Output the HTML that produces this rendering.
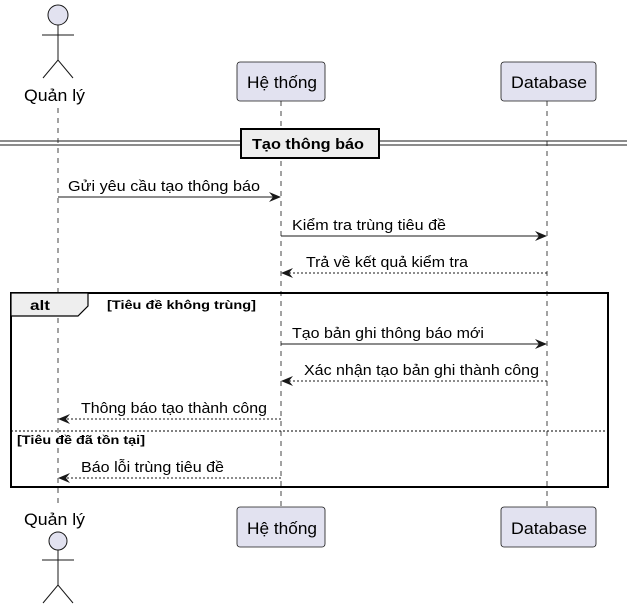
<!DOCTYPE html>
<html><head><meta charset="utf-8"><style>
html,body{margin:0;padding:0;background:#fff;}
svg{display:block;font-family:"Liberation Sans",Arial,sans-serif;}
</style></head><body>
<svg width="627" height="610" viewBox="0 0 627 610" xmlns="http://www.w3.org/2000/svg">
<defs>
<marker id="a" viewBox="0 0 12 10" refX="11" refY="5" markerWidth="12" markerHeight="10" markerUnits="userSpaceOnUse" orient="auto"><path d="M0,0 L12,5 L0,10 L4,5 Z" fill="#181818"/></marker>
</defs>
<g stroke="#181818" stroke-width="0.8" stroke-dasharray="5,5">
<line x1="58" y1="108" x2="58" y2="505"/>
<line x1="281" y1="101" x2="281" y2="507"/>
<line x1="547" y1="101" x2="547" y2="507"/>
</g>
<g stroke="#181818" stroke-width="1" fill="none">
<circle cx="58" cy="15" r="10" fill="#E2E2F0"/>
<line x1="58" y1="25" x2="58" y2="60"/><line x1="42" y1="35" x2="74" y2="35"/>
<polyline points="43,78 58,60 73,78"/>
<circle cx="58" cy="541" r="9" fill="#E2E2F0"/>
<line x1="58" y1="550" x2="58" y2="585"/><line x1="42" y1="560" x2="74" y2="560"/>
<polyline points="43,603 58,585 73,603"/>
</g>
<g font-size="17" fill="#000" lengthAdjust="spacingAndGlyphs">
<text x="24" y="101" textLength="61" lengthAdjust="spacingAndGlyphs">Quản lý</text>
<text x="24" y="525" textLength="61" lengthAdjust="spacingAndGlyphs">Quản lý</text>
</g>
<g fill="#E2E2F0" stroke="#181818" stroke-width="0.8">
<rect x="237" y="62" width="88" height="39" rx="3"/>
<rect x="501" y="62" width="95" height="39" rx="3"/>
<rect x="237" y="507" width="88" height="40" rx="3"/>
<rect x="501" y="507" width="95" height="40" rx="3"/>
</g>
<g font-size="17" fill="#000">
<text x="247" y="88" textLength="70" lengthAdjust="spacingAndGlyphs">Hệ thống</text>
<text x="511" y="88" textLength="76" lengthAdjust="spacingAndGlyphs">Database</text>
<text x="247" y="534" textLength="70" lengthAdjust="spacingAndGlyphs">Hệ thống</text>
<text x="511" y="534" textLength="76" lengthAdjust="spacingAndGlyphs">Database</text>
</g>
<g stroke="#181818" stroke-width="1">
<line x1="0" y1="141" x2="627" y2="141"/><line x1="0" y1="145" x2="627" y2="145"/>
</g>
<rect x="241" y="129" width="138" height="29" fill="#EEEEEE" stroke="#000" stroke-width="2"/>
<text x="252" y="149" font-size="15" font-weight="bold" textLength="112" lengthAdjust="spacingAndGlyphs">Tạo thông báo</text>
<g stroke="#181818" stroke-width="1" fill="none">
<line x1="58" y1="197" x2="280" y2="197" marker-end="url(#a)"/>
<line x1="281" y1="236" x2="546" y2="236" marker-end="url(#a)"/>
<line x1="547" y1="273" x2="282" y2="273" stroke-dasharray="2,2" marker-end="url(#a)"/>
<line x1="281" y1="344" x2="546" y2="344" marker-end="url(#a)"/>
<line x1="547" y1="381" x2="282" y2="381" stroke-dasharray="2,2" marker-end="url(#a)"/>
<line x1="281" y1="419" x2="59" y2="419" stroke-dasharray="2,2" marker-end="url(#a)"/>
<line x1="281" y1="478" x2="59" y2="478" stroke-dasharray="2,2" marker-end="url(#a)"/>
</g>
<g font-size="15" fill="#000">
<text x="68" y="191" textLength="192" lengthAdjust="spacingAndGlyphs">Gửi yêu cầu tạo thông báo</text>
<text x="292" y="230" textLength="154" lengthAdjust="spacingAndGlyphs">Kiểm tra trùng tiêu đề</text>
<text x="306" y="267" textLength="162" lengthAdjust="spacingAndGlyphs">Trả về kết quả kiểm tra</text>
<text x="292" y="338" textLength="192" lengthAdjust="spacingAndGlyphs">Tạo bản ghi thông báo mới</text>
<text x="304" y="375" textLength="235" lengthAdjust="spacingAndGlyphs">Xác nhận tạo bản ghi thành công</text>
<text x="81" y="413" textLength="186" lengthAdjust="spacingAndGlyphs">Thông báo tạo thành công</text>
<text x="81" y="472" textLength="143" lengthAdjust="spacingAndGlyphs">Báo lỗi trùng tiêu đề</text>
</g>
<rect x="11" y="293" width="597" height="194" fill="none" stroke="#000" stroke-width="2"/>
<path d="M11,293 L88,293 L88,306 L78,316 L11,316 Z" fill="#EEEEEE" stroke="#000" stroke-width="1.2"/>
<text x="30" y="310" font-size="14" font-weight="bold" textLength="20" lengthAdjust="spacingAndGlyphs">alt</text>
<text x="107" y="309" font-size="12" font-weight="bold" textLength="149" lengthAdjust="spacingAndGlyphs">[Tiêu đề không trùng]</text>
<line x1="11" y1="431" x2="608" y2="431" stroke="#000" stroke-width="1" stroke-dasharray="2,2"/>
<text x="17" y="444" font-size="12" font-weight="bold" textLength="128" lengthAdjust="spacingAndGlyphs">[Tiêu đề đã tồn tại]</text>
</svg>
</body></html>
